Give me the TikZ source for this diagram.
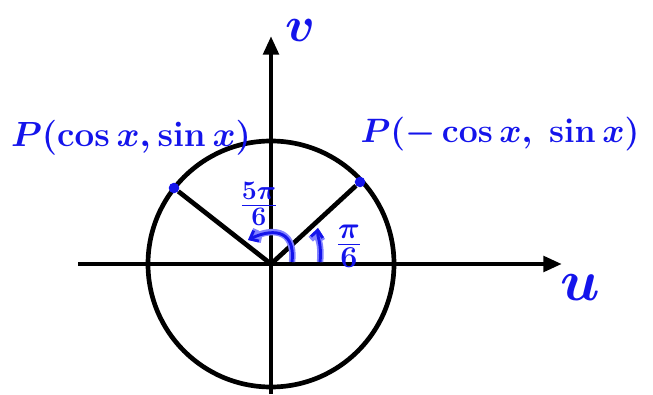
\documentclass[tikz,border=0pt]{standalone}
\usetikzlibrary{arrows.meta}
\definecolor{ink}{RGB}{20,20,235}
\definecolor{halo}{RGB}{130,130,255}

\begin{document}
\begin{tikzpicture}[x=0.03cm,y=0.03cm,ax/.style={line width=4pt,black},hand/.style={text=ink,font=\fontsize{24.88}{28}\selectfont\boldmath,transform shape},pen/.style={line width=2.5pt,draw=ink,preaction={draw=halo,line width=5.5pt}},dot/.style={circle,fill=ink,inner sep=0pt,minimum size=9pt}]
\useasboundingbox (0,0) rectangle (653,394);
\coordinate (O) at (271,130);
\coordinate (xl) at (78,130); \coordinate (xr) at (562,130);
\coordinate (yb) at (271,0); \coordinate (yt) at (271,358);
\draw[ax] (O) circle (123);
\draw[ax,-{Triangle[length=16pt,width=13pt]}] (xl)--(xr);
\draw[ax,-{Triangle[length=16pt,width=13pt]}] (yb)--(yt);
\node[dot] (pr) at (360,212) {};
\node[dot] (pl) at (174,206) {};
\draw[ax] (O)--(pr); \draw[ax] (O)--(pl);
% angle marks
\coordinate (a1) at (320,132); \coordinate (a2) at (318,166);
\draw[pen,-{Straight Barb[length=6pt,width=10pt]}] (a1) .. controls (322,150) and (317,158) .. (a2);
\coordinate (b1) at (292,132); \coordinate (b2) at (248,154);
\draw[pen,-{Straight Barb[length=6pt,width=10pt]}] (b1) .. controls (296,168) and (268,164) .. (b2);
\node[hand,scale=1.25] (t1) at (349,148) {$\frac{\pi}{6}$};
\node[hand,scale=1.1] (t5) at (259,190) {$\frac{5\pi}{6}$};
% labels
\node[hand,scale=1.2] (lp) at (131,256) {$P(\cos x,\sin x)$};
\node[hand,scale=1.16] (rp) at (500,260) {$P(-\cos x,\ \sin x)$};
\node[hand,scale=1.7] (lv) at (300,364) {$v$};
\node[hand,scale=2] (lu) at (580,106) {$u$};
\end{tikzpicture}
\end{document}
